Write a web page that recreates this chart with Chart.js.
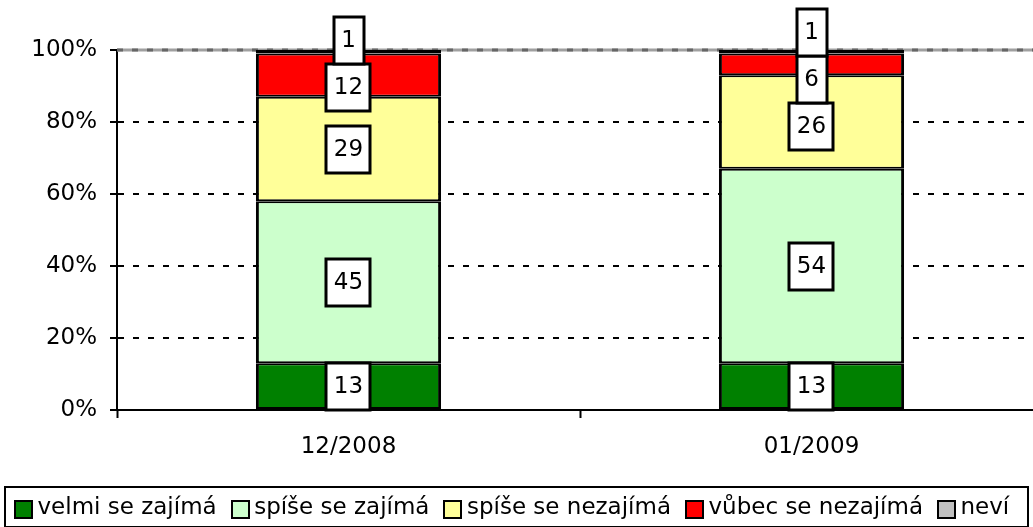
<!DOCTYPE html>
<html>
<head>
<meta charset="utf-8">
<script src="https://cdn.jsdelivr.net/npm/chart.js@4.4.1/dist/chart.umd.min.js"></script>
<style>
  html, body { margin: 0; padding: 0; background: #fff; overflow: hidden; }
  #wrap { width: 1033px; height: 527px; overflow: hidden; position: relative; }
  canvas { display: block; }
</style>
</head>
<body>
<div id="wrap"><canvas id="chart" width="1060" height="540"></canvas></div>
<script>
const periods = ["12/2008", "01/2009"];
const seriesNames = ["velmi se zajímá", "spíše se zajímá", "spíše se nezajímá", "vůbec se nezajímá", "neví"];
const velmi = [13, 13];
const spiseZajima = [45, 54];
const spiseNezajima = [29, 26];
const vubec = [12, 6];
const nevi = [1, 1];
const yTicks = [0, 20, 40, 60, 80, 100];
const colors = ["#008000", "#CCFFCC", "#FFFF99", "#FF0000", "#C0C0C0"];

const FONT = "'DejaVu Sans', Verdana, sans-serif";

// white boxed value labels, pushed apart when they overlap (like the excel original)
const boxLabels = {
  id: "boxLabels",
  afterDatasetsDraw(chart) {
    const ctx = chart.ctx;
    ctx.save();
    ctx.font = "23px " + FONT;
    const boxH = 47, padX = 7.5;
    periods.forEach((p, i) => {
      let boxes = [];
      chart.data.datasets.forEach((ds, d) => {
        const bar = chart.getDatasetMeta(d).data[i];
        const txt = String(ds.data[i]);
        const w = ctx.measureText(txt).width + padX * 2;
        boxes.push({ x: bar.x, y: (bar.y + bar.base) / 2, w: w, txt: txt });
      });
      for (let it = 0; it < 60; it++) {
        boxes.sort((a, b) => b.y - a.y);
        for (let k = 0; k < boxes.length - 1; k++) {
          const a = boxes[k], b = boxes[k + 1];
          const ov = boxH - (a.y - b.y);
          if (ov > 0) { a.y += ov / 2; b.y -= ov / 2; }
        }
      }
      boxes.forEach(b => {
        const x0 = Math.round(b.x - b.w / 2), y0 = Math.round(b.y - boxH / 2);
        ctx.fillStyle = "#fff";
        ctx.fillRect(x0, y0, Math.round(b.w), boxH);
        ctx.lineWidth = 3;
        ctx.strokeStyle = "#000";
        ctx.strokeRect(x0, y0, Math.round(b.w), boxH);
        ctx.fillStyle = "#000";
        ctx.textAlign = "center";
        ctx.textBaseline = "middle";
        ctx.fillText(b.txt, b.x, b.y + 1);
      });
    });
    ctx.restore();
  }
};

// grey plot-area top edge, legend keys and a frame round the legend
const frames = {
  id: "frames",
  beforeDatasetsDraw(chart) {
    const ctx = chart.ctx, a = chart.chartArea;
    const y = chart.scales.y.getPixelForValue(100);
    ctx.save();
    ctx.lineWidth = 3;
    ctx.strokeStyle = "#a0a0a0";
    ctx.beginPath();
    ctx.moveTo(a.left, y);
    ctx.lineTo(a.right, y);
    ctx.stroke();
    ctx.strokeStyle = "#666";
    ctx.setLineDash([6, 9]);
    ctx.stroke();
    ctx.restore();
  },
  afterDraw(chart) {
    const lg = chart.legend;
    if (!lg || !lg.legendHitBoxes.length) return;
    const hb = lg.legendHitBoxes;
    const ctx = chart.ctx;
    ctx.save();
    ctx.strokeStyle = "#000";
    ctx.lineWidth = 2;
    hb.forEach((h, i) => {
      const cy = Math.round(h.top + h.height / 2);
      const x = Math.round(h.left) + 1;
      ctx.fillStyle = colors[i];
      ctx.fillRect(x, cy - 8, 17, 17);
      ctx.strokeRect(x, cy - 8, 17, 17);
    });
    const x1 = Math.round(hb[0].left) - 9;
    const x2 = Math.round(hb[hb.length - 1].left + hb[hb.length - 1].width) + 19;
    ctx.strokeRect(x1, Math.round(lg.top) + 4, x2 - x1, 40);
    ctx.restore();
  }
};

const seriesData = [velmi, spiseZajima, spiseNezajima, vubec, nevi];

new Chart(document.getElementById("chart"), {
  type: "bar",
  data: {
    labels: periods,
    datasets: seriesNames.map((n, i) => ({
      label: n,
      data: seriesData[i],
      backgroundColor: colors[i],
      borderColor: "#000",
      borderWidth: { top: 2, bottom: 2, left: 3, right: 3 },
      borderSkipped: false,
      inflateAmount: 0,
      barPercentage: 0.4,
      categoryPercentage: 1.0
    }))
  },
  options: {
    responsive: false,
    animation: false,
    layout: { padding: { top: 50, right: 17, bottom: 10, left: 0 } },
    plugins: {
      tooltip: { enabled: false },
      legend: {
        position: "bottom",
        align: "start",
        labels: {
          font: { family: FONT, size: 23 },
          color: "#000",
          boxWidth: 12,
          boxHeight: 16,
          padding: 14,
          generateLabels: chart => chart.data.datasets.map((ds, i) => ({
            text: ds.label,
            fillStyle: "rgba(0,0,0,0)",
            strokeStyle: "rgba(0,0,0,0)",
            lineWidth: 0,
            datasetIndex: i,
            fontColor: "#000"
          }))
        }
      }
    },
    scales: {
      x: {
        stacked: true,
        offset: true,
        afterFit: s => { s.height = 73; },
        grid: {
          display: true,
          offset: true,
          drawOnChartArea: false,
          drawTicks: true,
          tickLength: 8,
          tickColor: "#000",
          tickWidth: 2
        },
        border: { display: true, color: "#000", width: 2 },
        ticks: { font: { family: FONT, size: 23 }, color: "#000", padding: 15 }
      },
      y: {
        stacked: true,
        min: 0,
        max: 100,
        afterFit: s => { s.width = 117; },
        afterBuildTicks: s => { s.ticks = yTicks.map(v => ({ value: v })); },
        grid: {
          color: c => (c.tick && (c.tick.value === 100 || c.tick.value === 0)) ? "rgba(0,0,0,0)" : "#000",
          lineWidth: 2,
          drawTicks: true,
          tickLength: 7,
          tickColor: "#000",
          tickWidth: 2
        },
        border: { display: true, color: "#000", width: 2, dash: [6, 9] },
        ticks: {
          font: { family: FONT, size: 23 },
          color: "#000",
          padding: 13,
          callback: v => v + "%"
        }
      }
    }
  },
  plugins: [boxLabels, frames]
});
</script>
</body>
</html>
